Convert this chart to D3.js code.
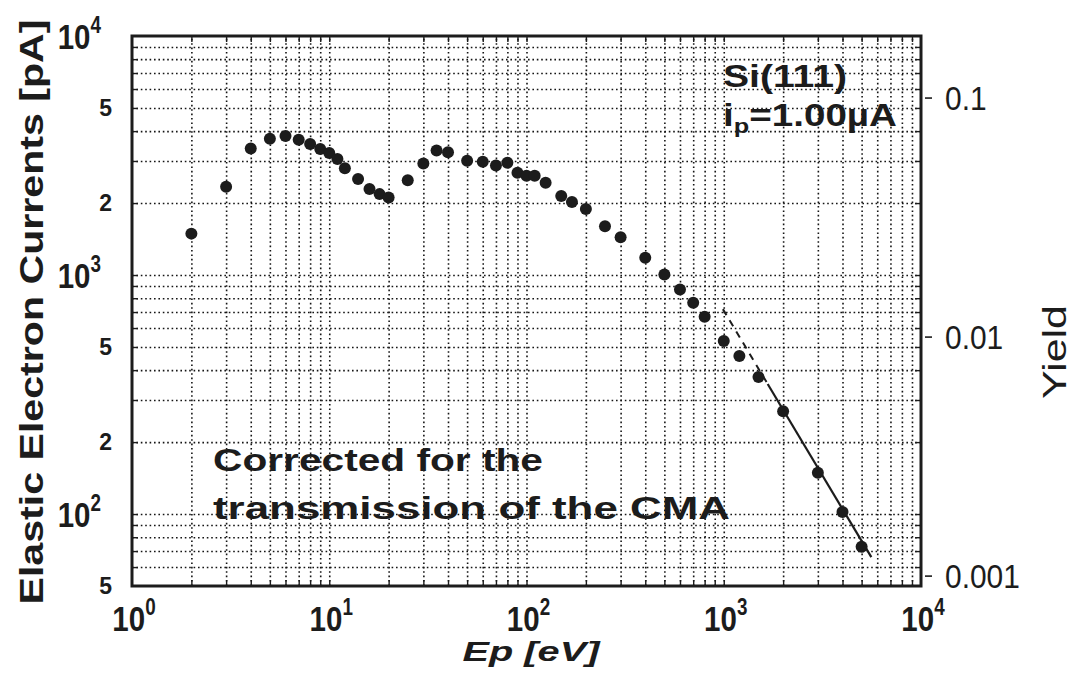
<!DOCTYPE html>
<html>
<head>
<meta charset="utf-8">
<script src="https://cdn.jsdelivr.net/npm/d3@7"></script>
<style>
  body { margin: 0; background: #fff; }
  svg text { font-family: "Liberation Sans", Arial, sans-serif; fill: #1c1c1c; }
  .grid line { stroke: #151515; stroke-width: 1.6; stroke-dasharray: 1.6 2.8; }
  .ticks line { stroke: #1c1c1c; stroke-width: 1.4; }
</style>
</head>
<body>
<svg id="chart" width="1074" height="676"></svg>
<script>
// Data: primary energy Ep [eV] vs elastic current [pA]
const energies = [2, 3, 4, 5, 6, 7, 8, 9, 10, 11, 12, 14, 16, 18, 20, 25, 30, 35, 40,
  50, 60, 70, 80, 90, 100, 110, 125, 150, 170, 200, 250, 300, 400, 500, 600, 700, 800,
  1000, 1200, 1500, 2000, 3000, 4000, 5000];
const currents = [1490, 2340, 3380, 3720, 3820, 3680, 3530, 3370, 3240, 3060, 2800, 2520,
  2290, 2180, 2110, 2490, 2930, 3320, 3260, 3010, 2980, 2870, 2950, 2680, 2600, 2600, 2430,
  2140, 2020, 1890, 1600, 1440, 1180, 1005, 869, 766, 669, 530, 458, 374, 269, 149, 102, 73];

// power-law fit drawn at high energy (dashed extrapolation, then solid)
const fitDashed = [[990, 720], [1670, 350]];
const fitSolid = [[1670, 350], [5600, 66]];

// axes
const xMajorTicks = [1, 10, 100, 1000, 10000];
const yMajorTicks = [100, 1000, 10000];
const yDigitTicks = [50, 200, 500, 2000, 5000];
const yieldTicks = [0.1, 0.01, 0.001];
const yieldLabels = ['0.1', '0.01', '0.001'];
const yieldPerPA = 55000; // current (pA) that corresponds to a yield of 1

const svg = d3.select('#chart');
const plot = { left: 132, right: 921, top: 36, bottom: 586 };

const x = d3.scaleLog().domain([1, 1e4]).range([plot.left, plot.right]);
const y = d3.scaleLog().domain([50, 1e4]).range([plot.bottom, plot.top]);
const yYield = d3.scaleLog()
  .domain([50 / yieldPerPA, 1e4 / yieldPerPA])
  .range([plot.bottom, plot.top]);

const gridX = x.ticks().filter(d => d > 1 && d < 1e4);
const gridY = y.ticks().filter(d => d > 50 && d < 1e4);

// dotted grid
svg.append('g').attr('class', 'grid')
  .attr('transform', `translate(0,${plot.bottom})`)
  .call(d3.axisBottom(x).tickValues(gridX).tickSize(-(plot.bottom - plot.top)).tickFormat(''))
  .call(g => g.select('.domain').remove());
svg.append('g').attr('class', 'grid')
  .attr('transform', `translate(${plot.left},0)`)
  .call(d3.axisLeft(y).tickValues(gridY).tickSize(-(plot.right - plot.left)).tickFormat(''))
  .call(g => g.select('.domain').remove());

// small inward ticks on every side
const inner = 6;
[
  [d3.axisBottom(x).tickValues(gridX), `translate(0,${plot.bottom})`],
  [d3.axisTop(x).tickValues(gridX), `translate(0,${plot.top})`],
  [d3.axisLeft(y).tickValues(gridY), `translate(${plot.left},0)`],
  [d3.axisRight(y).tickValues(gridY), `translate(${plot.right},0)`],
].forEach(([axis, tr]) => {
  svg.append('g').attr('class', 'ticks').attr('transform', tr)
    .call(axis.tickSize(-inner).tickFormat(''))
    .call(g => g.select('.domain').remove());
});

// frame
svg.append('rect')
  .attr('x', plot.left).attr('y', plot.top)
  .attr('width', plot.right - plot.left).attr('height', plot.bottom - plot.top)
  .attr('fill', 'none').attr('stroke', '#1c1c1c').attr('stroke-width', 3);

// power label helper: "10" with superscript exponent
function powerLabel(g, v) {
  const t = g.append('text').attr('font-weight', 'bold').attr('font-size', 36);
  t.append('tspan').text('10');
  t.append('tspan').attr('font-size', 23).attr('dy', -16).text(Math.round(Math.log10(v)));
  return t;
}

// left labels
yMajorTicks.forEach(v => {
  const g = svg.append('g').attr('transform', `translate(101,${y(v) + 13}) scale(0.82,1)`);
  powerLabel(g, v).attr('text-anchor', 'end');
});
svg.append('g').selectAll('text')
  .data(yDigitTicks)
  .join('text')
  .attr('x', 112)
  .attr('y', d => y(d) + 8)
  .attr('text-anchor', 'end')
  .attr('font-weight', 'bold')
  .attr('font-size', 23)
  .text(d => String(d)[0]);

// bottom labels
xMajorTicks.forEach(v => {
  const g = svg.append('g').attr('transform', `translate(${x(v) + 2},631) scale(0.82,1)`);
  powerLabel(g, v).attr('text-anchor', 'middle');
});

// right (yield) axis
const yr = svg.append('g');
yr.selectAll('line')
  .data(yieldTicks)
  .join('line')
  .attr('x1', plot.right + 4).attr('x2', plot.right + 11)
  .attr('y1', d => yYield(d)).attr('y2', d => yYield(d))
  .attr('stroke', '#1c1c1c').attr('stroke-width', 1.6);
yr.selectAll('text')
  .data(yieldTicks)
  .join('text')
  .attr('transform', d => `translate(${plot.right + 24},${yYield(d) + 12}) scale(0.88,1)`)
  .attr('font-size', 34)
  .text((d, i) => yieldLabels[i]);

// axis titles
svg.append('text')
  .attr('transform', `translate(43,312) rotate(-90)`)
  .attr('text-anchor', 'middle')
  .attr('font-weight', 'bold')
  .attr('font-size', 34)
  .attr('textLength', 585)
  .attr('lengthAdjust', 'spacingAndGlyphs')
  .text('Elastic  Electron  Currents  [pA]');
svg.append('text')
  .attr('x', 531).attr('y', 661)
  .attr('text-anchor', 'middle')
  .attr('font-weight', 'bold')
  .attr('font-style', 'italic')
  .attr('font-size', 28)
  .attr('textLength', 137)
  .attr('lengthAdjust', 'spacingAndGlyphs')
  .text('Ep  [eV]');
svg.append('text')
  .attr('transform', `translate(1066,352) rotate(-90)`)
  .attr('text-anchor', 'middle')
  .attr('font-size', 34)
  .attr('textLength', 94)
  .attr('lengthAdjust', 'spacingAndGlyphs')
  .text('Yield');

// annotations
svg.append('text')
  .attr('x', 723).attr('y', 87)
  .attr('font-weight', 'bold').attr('font-size', 32)
  .attr('textLength', 124).attr('lengthAdjust', 'spacingAndGlyphs')
  .text('Si(111)');
const ip = svg.append('text')
  .attr('x', 723).attr('y', 126)
  .attr('font-weight', 'bold').attr('font-size', 32)
  .attr('textLength', 174).attr('lengthAdjust', 'spacingAndGlyphs');
ip.append('tspan').text('i');
ip.append('tspan').attr('font-size', 21).attr('dy', 7).text('p');
ip.append('tspan').attr('dy', -7).text('=1.00\u00b5A');

svg.append('text')
  .attr('x', 213).attr('y', 471)
  .attr('font-weight', 'bold').attr('font-size', 31)
  .attr('textLength', 330).attr('lengthAdjust', 'spacingAndGlyphs')
  .text('Corrected  for  the');
svg.append('text')
  .attr('x', 213).attr('y', 519)
  .attr('font-weight', 'bold').attr('font-size', 31)
  .attr('textLength', 517).attr('lengthAdjust', 'spacingAndGlyphs')
  .text('transmission  of  the  CMA');

// fit line
const line = d3.line().x(d => x(d[0])).y(d => y(d[1]));
svg.append('path')
  .attr('d', line(fitDashed))
  .attr('fill', 'none').attr('stroke', '#1c1c1c')
  .attr('stroke-width', 2).attr('stroke-dasharray', '7 6');
svg.append('path')
  .attr('d', line(fitSolid))
  .attr('fill', 'none').attr('stroke', '#1c1c1c').attr('stroke-width', 2.2);

// data points
svg.append('g')
  .selectAll('circle')
  .data(energies.map((e, i) => ({ e, c: currents[i] })))
  .join('circle')
  .attr('cx', d => x(d.e))
  .attr('cy', d => y(d.c))
  .attr('r', 6)
  .attr('fill', '#1c1c1c');
</script>
</body>
</html>
